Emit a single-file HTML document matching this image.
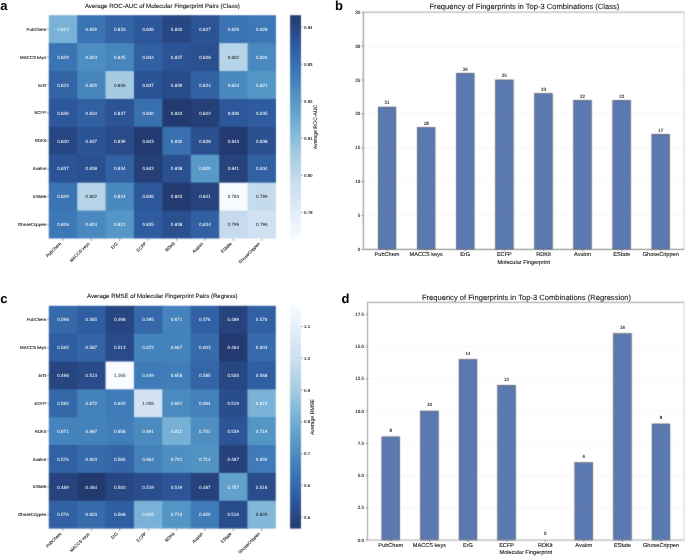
<!DOCTYPE html>
<html><head><meta charset="utf-8"><style>
html,body{margin:0;padding:0;background:#fff;}
svg{display:block;will-change:transform;}
text{font-family:"Liberation Sans",sans-serif;text-rendering:geometricPrecision;}
</style></head><body>
<svg width="685" height="556" viewBox="0 0 685 556">
<defs><filter id="bl" x="0" y="0" width="685" height="556" filterUnits="userSpaceOnUse" color-interpolation-filters="sRGB"><feConvolveMatrix order="3" kernelMatrix="0.02768 0.11101 0.02768 0.11101 0.44521 0.11101 0.02768 0.11101 0.02768" edgeMode="duplicate" preserveAlpha="true"/></filter></defs>
<rect width="685" height="556" fill="#fff"/>
<g filter="url(#bl)">
<rect width="685" height="556" fill="#fff"/>
<rect x="48.75" y="15.20" width="29.41" height="28.91" fill="#79b2d6"/>
<rect x="77.16" y="15.20" width="29.41" height="28.91" fill="#3b74b3"/>
<rect x="105.56" y="15.20" width="29.41" height="28.91" fill="#3264a6"/>
<rect x="133.97" y="15.20" width="29.41" height="28.91" fill="#2d579b"/>
<rect x="162.38" y="15.20" width="29.41" height="28.91" fill="#274783"/>
<rect x="190.78" y="15.20" width="29.41" height="28.91" fill="#2c5396"/>
<rect x="219.19" y="15.20" width="29.41" height="28.91" fill="#3b74b3"/>
<rect x="247.59" y="15.20" width="28.41" height="28.91" fill="#3d78b6"/>
<rect x="48.75" y="43.11" width="29.41" height="28.91" fill="#3b74b3"/>
<rect x="77.16" y="43.11" width="29.41" height="28.91" fill="#4d8dc1"/>
<rect x="105.56" y="43.11" width="29.41" height="28.91" fill="#4785bd"/>
<rect x="133.97" y="43.11" width="29.41" height="28.91" fill="#3160a3"/>
<rect x="162.38" y="43.11" width="29.41" height="28.91" fill="#2c5396"/>
<rect x="190.78" y="43.11" width="29.41" height="28.91" fill="#2a5090"/>
<rect x="219.19" y="43.11" width="29.41" height="28.91" fill="#b7d5e8"/>
<rect x="247.59" y="43.11" width="28.41" height="28.91" fill="#4a89bf"/>
<rect x="48.75" y="71.03" width="29.41" height="28.91" fill="#3264a6"/>
<rect x="77.16" y="71.03" width="29.41" height="28.91" fill="#4785bd"/>
<rect x="105.56" y="71.03" width="29.41" height="28.91" fill="#a4cbe1"/>
<rect x="133.97" y="71.03" width="29.41" height="28.91" fill="#2c5396"/>
<rect x="162.38" y="71.03" width="29.41" height="28.91" fill="#294b89"/>
<rect x="190.78" y="71.03" width="29.41" height="28.91" fill="#3160a3"/>
<rect x="219.19" y="71.03" width="29.41" height="28.91" fill="#4a89bf"/>
<rect x="247.59" y="71.03" width="28.41" height="28.91" fill="#5496c6"/>
<rect x="48.75" y="98.94" width="29.41" height="28.91" fill="#2d579b"/>
<rect x="77.16" y="98.94" width="29.41" height="28.91" fill="#3160a3"/>
<rect x="105.56" y="98.94" width="29.41" height="28.91" fill="#2c5396"/>
<rect x="133.97" y="98.94" width="29.41" height="28.91" fill="#3970b0"/>
<rect x="162.38" y="98.94" width="29.41" height="28.91" fill="#233a70"/>
<rect x="190.78" y="98.94" width="29.41" height="28.91" fill="#253f77"/>
<rect x="219.19" y="98.94" width="29.41" height="28.91" fill="#2d579b"/>
<rect x="247.59" y="98.94" width="28.41" height="28.91" fill="#2f5ba0"/>
<rect x="48.75" y="126.85" width="29.41" height="28.91" fill="#274783"/>
<rect x="77.16" y="126.85" width="29.41" height="28.91" fill="#2c5396"/>
<rect x="105.56" y="126.85" width="29.41" height="28.91" fill="#294b89"/>
<rect x="133.97" y="126.85" width="29.41" height="28.91" fill="#233a70"/>
<rect x="162.38" y="126.85" width="29.41" height="28.91" fill="#3970b0"/>
<rect x="190.78" y="126.85" width="29.41" height="28.91" fill="#2a5090"/>
<rect x="219.19" y="126.85" width="29.41" height="28.91" fill="#233a70"/>
<rect x="247.59" y="126.85" width="28.41" height="28.91" fill="#2a5090"/>
<rect x="48.75" y="154.76" width="29.41" height="28.91" fill="#2c5396"/>
<rect x="77.16" y="154.76" width="29.41" height="28.91" fill="#2a5090"/>
<rect x="105.56" y="154.76" width="29.41" height="28.91" fill="#3160a3"/>
<rect x="133.97" y="154.76" width="29.41" height="28.91" fill="#253f77"/>
<rect x="162.38" y="154.76" width="29.41" height="28.91" fill="#2a5090"/>
<rect x="190.78" y="154.76" width="29.41" height="28.91" fill="#5899c8"/>
<rect x="219.19" y="154.76" width="29.41" height="28.91" fill="#26437d"/>
<rect x="247.59" y="154.76" width="28.41" height="28.91" fill="#3160a3"/>
<rect x="48.75" y="182.68" width="29.41" height="28.91" fill="#3b74b3"/>
<rect x="77.16" y="182.68" width="29.41" height="28.91" fill="#b7d5e8"/>
<rect x="105.56" y="182.68" width="29.41" height="28.91" fill="#4a89bf"/>
<rect x="133.97" y="182.68" width="29.41" height="28.91" fill="#2d579b"/>
<rect x="162.38" y="182.68" width="29.41" height="28.91" fill="#233a70"/>
<rect x="190.78" y="182.68" width="29.41" height="28.91" fill="#26437d"/>
<rect x="219.19" y="182.68" width="29.41" height="28.91" fill="#f8fbff"/>
<rect x="247.59" y="182.68" width="28.41" height="28.91" fill="#c5dbed"/>
<rect x="48.75" y="210.59" width="29.41" height="27.91" fill="#3d78b6"/>
<rect x="77.16" y="210.59" width="29.41" height="27.91" fill="#4a89bf"/>
<rect x="105.56" y="210.59" width="29.41" height="27.91" fill="#5496c6"/>
<rect x="133.97" y="210.59" width="29.41" height="27.91" fill="#2f5ba0"/>
<rect x="162.38" y="210.59" width="29.41" height="27.91" fill="#2a5090"/>
<rect x="190.78" y="210.59" width="29.41" height="27.91" fill="#3160a3"/>
<rect x="219.19" y="210.59" width="29.41" height="27.91" fill="#c5dbed"/>
<rect x="247.59" y="210.59" width="28.41" height="27.91" fill="#d0e1f1"/>
<line x1="46.45" y1="29.16" x2="48.75" y2="29.16" stroke="#333" stroke-width="0.5"/>
<line x1="46.45" y1="57.07" x2="48.75" y2="57.07" stroke="#333" stroke-width="0.5"/>
<line x1="46.45" y1="84.98" x2="48.75" y2="84.98" stroke="#333" stroke-width="0.5"/>
<line x1="46.45" y1="112.89" x2="48.75" y2="112.89" stroke="#333" stroke-width="0.5"/>
<line x1="46.45" y1="140.81" x2="48.75" y2="140.81" stroke="#333" stroke-width="0.5"/>
<line x1="46.45" y1="168.72" x2="48.75" y2="168.72" stroke="#333" stroke-width="0.5"/>
<line x1="46.45" y1="196.63" x2="48.75" y2="196.63" stroke="#333" stroke-width="0.5"/>
<line x1="46.45" y1="224.54" x2="48.75" y2="224.54" stroke="#333" stroke-width="0.5"/>
<line x1="62.95" y1="238.50" x2="62.95" y2="240.80" stroke="#333" stroke-width="0.5"/>
<line x1="91.36" y1="238.50" x2="91.36" y2="240.80" stroke="#333" stroke-width="0.5"/>
<line x1="119.77" y1="238.50" x2="119.77" y2="240.80" stroke="#333" stroke-width="0.5"/>
<line x1="148.17" y1="238.50" x2="148.17" y2="240.80" stroke="#333" stroke-width="0.5"/>
<line x1="176.58" y1="238.50" x2="176.58" y2="240.80" stroke="#333" stroke-width="0.5"/>
<line x1="204.98" y1="238.50" x2="204.98" y2="240.80" stroke="#333" stroke-width="0.5"/>
<line x1="233.39" y1="238.50" x2="233.39" y2="240.80" stroke="#333" stroke-width="0.5"/>
<line x1="261.80" y1="238.50" x2="261.80" y2="240.80" stroke="#333" stroke-width="0.5"/>
<defs><linearGradient id="g161" x1="0" y1="0" x2="0" y2="1"><stop offset="0.0000" stop-color="#233a70"/><stop offset="0.0156" stop-color="#243d74"/><stop offset="0.0312" stop-color="#25417a"/><stop offset="0.0469" stop-color="#274580"/><stop offset="0.0625" stop-color="#284986"/><stop offset="0.0781" stop-color="#294d8b"/><stop offset="0.0938" stop-color="#2b5191"/><stop offset="0.1094" stop-color="#2c5497"/><stop offset="0.1250" stop-color="#2d589d"/><stop offset="0.1406" stop-color="#2f5ca0"/><stop offset="0.1562" stop-color="#3160a3"/><stop offset="0.1719" stop-color="#3264a6"/><stop offset="0.1875" stop-color="#3468a9"/><stop offset="0.2031" stop-color="#366cac"/><stop offset="0.2188" stop-color="#3870af"/><stop offset="0.2344" stop-color="#3b73b2"/><stop offset="0.2500" stop-color="#3d77b5"/><stop offset="0.2656" stop-color="#3f7bb8"/><stop offset="0.2812" stop-color="#427fba"/><stop offset="0.2969" stop-color="#4583bc"/><stop offset="0.3125" stop-color="#4887be"/><stop offset="0.3281" stop-color="#4b8bc0"/><stop offset="0.3438" stop-color="#4f8fc2"/><stop offset="0.3594" stop-color="#5293c4"/><stop offset="0.3750" stop-color="#5597c6"/><stop offset="0.3906" stop-color="#599ac8"/><stop offset="0.4062" stop-color="#5d9dca"/><stop offset="0.4219" stop-color="#62a1cc"/><stop offset="0.4375" stop-color="#66a4ce"/><stop offset="0.4531" stop-color="#6aa8d0"/><stop offset="0.4688" stop-color="#6fabd2"/><stop offset="0.4844" stop-color="#73aed4"/><stop offset="0.5000" stop-color="#78b2d6"/><stop offset="0.5156" stop-color="#7db5d7"/><stop offset="0.5312" stop-color="#83b8d9"/><stop offset="0.5469" stop-color="#88bcda"/><stop offset="0.5625" stop-color="#8ebfdc"/><stop offset="0.5781" stop-color="#94c2dd"/><stop offset="0.5938" stop-color="#99c6de"/><stop offset="0.6094" stop-color="#9fc9e0"/><stop offset="0.6250" stop-color="#a5cce1"/><stop offset="0.6406" stop-color="#aacee3"/><stop offset="0.6562" stop-color="#aed0e5"/><stop offset="0.6719" stop-color="#b3d3e6"/><stop offset="0.6875" stop-color="#b7d5e8"/><stop offset="0.7031" stop-color="#bcd7ea"/><stop offset="0.7188" stop-color="#c1d9eb"/><stop offset="0.7344" stop-color="#c5dbed"/><stop offset="0.7500" stop-color="#caddef"/><stop offset="0.7656" stop-color="#cddff0"/><stop offset="0.7812" stop-color="#cfe1f1"/><stop offset="0.7969" stop-color="#d2e2f2"/><stop offset="0.8125" stop-color="#d5e4f3"/><stop offset="0.8281" stop-color="#d8e6f4"/><stop offset="0.8438" stop-color="#dbe8f5"/><stop offset="0.8594" stop-color="#ddeaf6"/><stop offset="0.8750" stop-color="#e0ecf7"/><stop offset="0.8906" stop-color="#e3eef8"/><stop offset="0.9062" stop-color="#e6f0f9"/><stop offset="0.9219" stop-color="#e9f2fa"/><stop offset="0.9375" stop-color="#ecf4fb"/><stop offset="0.9531" stop-color="#eff5fc"/><stop offset="0.9688" stop-color="#f2f7fd"/><stop offset="0.9844" stop-color="#f5f9fe"/><stop offset="1.0000" stop-color="#f8fbff"/></linearGradient></defs>
<rect x="290.1" y="15.20" width="10.90" height="223.30" fill="url(#g161)"/>
<line x1="301.00" y1="212.45" x2="302.80" y2="212.45" stroke="#333" stroke-width="0.5"/>
<line x1="301.00" y1="175.38" x2="302.80" y2="175.38" stroke="#333" stroke-width="0.5"/>
<line x1="301.00" y1="138.32" x2="302.80" y2="138.32" stroke="#333" stroke-width="0.5"/>
<line x1="301.00" y1="101.26" x2="302.80" y2="101.26" stroke="#333" stroke-width="0.5"/>
<line x1="301.00" y1="64.20" x2="302.80" y2="64.20" stroke="#333" stroke-width="0.5"/>
<line x1="301.00" y1="27.13" x2="302.80" y2="27.13" stroke="#333" stroke-width="0.5"/>
<rect x="48.80" y="305.80" width="29.38" height="28.85" fill="#3569aa"/>
<rect x="77.17" y="305.80" width="29.38" height="28.85" fill="#2f5da1"/>
<rect x="105.55" y="305.80" width="29.38" height="28.85" fill="#274681"/>
<rect x="133.93" y="305.80" width="29.38" height="28.85" fill="#3468a9"/>
<rect x="162.30" y="305.80" width="29.38" height="28.85" fill="#4583bc"/>
<rect x="190.68" y="305.80" width="29.38" height="28.85" fill="#3161a4"/>
<rect x="219.05" y="305.80" width="29.38" height="28.85" fill="#26437d"/>
<rect x="247.43" y="305.80" width="28.38" height="28.85" fill="#3161a4"/>
<rect x="48.80" y="333.65" width="29.38" height="28.85" fill="#2f5da1"/>
<rect x="77.17" y="333.65" width="29.38" height="28.85" fill="#3365a7"/>
<rect x="105.55" y="333.65" width="29.38" height="28.85" fill="#294b89"/>
<rect x="133.93" y="333.65" width="29.38" height="28.85" fill="#4583bc"/>
<rect x="162.30" y="333.65" width="29.38" height="28.85" fill="#4482bb"/>
<rect x="190.68" y="333.65" width="29.38" height="28.85" fill="#366bac"/>
<rect x="219.05" y="333.65" width="29.38" height="28.85" fill="#233a70"/>
<rect x="247.43" y="333.65" width="28.38" height="28.85" fill="#366bac"/>
<rect x="48.80" y="361.50" width="29.38" height="28.85" fill="#274681"/>
<rect x="77.17" y="361.50" width="29.38" height="28.85" fill="#294b89"/>
<rect x="105.55" y="361.50" width="29.38" height="28.85" fill="#f8fbff"/>
<rect x="133.93" y="361.50" width="29.38" height="28.85" fill="#3f7bb8"/>
<rect x="162.30" y="361.50" width="29.38" height="28.85" fill="#417eb9"/>
<rect x="190.68" y="361.50" width="29.38" height="28.85" fill="#3365a7"/>
<rect x="219.05" y="361.50" width="29.38" height="28.85" fill="#274783"/>
<rect x="247.43" y="361.50" width="28.38" height="28.85" fill="#305ea2"/>
<rect x="48.80" y="389.35" width="29.38" height="28.85" fill="#3468a9"/>
<rect x="77.17" y="389.35" width="29.38" height="28.85" fill="#4583bc"/>
<rect x="105.55" y="389.35" width="29.38" height="28.85" fill="#3f7bb8"/>
<rect x="133.93" y="389.35" width="29.38" height="28.85" fill="#d4e3f2"/>
<rect x="162.30" y="389.35" width="29.38" height="28.85" fill="#4b8abf"/>
<rect x="190.68" y="389.35" width="29.38" height="28.85" fill="#4481bb"/>
<rect x="219.05" y="389.35" width="29.38" height="28.85" fill="#2a4e8d"/>
<rect x="247.43" y="389.35" width="28.38" height="28.85" fill="#79b2d6"/>
<rect x="48.80" y="417.20" width="29.38" height="28.85" fill="#4583bc"/>
<rect x="77.17" y="417.20" width="29.38" height="28.85" fill="#4482bb"/>
<rect x="105.55" y="417.20" width="29.38" height="28.85" fill="#417eb9"/>
<rect x="133.93" y="417.20" width="29.38" height="28.85" fill="#4b8abf"/>
<rect x="162.30" y="417.20" width="29.38" height="28.85" fill="#76b1d5"/>
<rect x="190.68" y="417.20" width="29.38" height="28.85" fill="#4e8ec1"/>
<rect x="219.05" y="417.20" width="29.38" height="28.85" fill="#2c5497"/>
<rect x="247.43" y="417.20" width="28.38" height="28.85" fill="#5395c5"/>
<rect x="48.80" y="445.05" width="29.38" height="28.85" fill="#3161a4"/>
<rect x="77.17" y="445.05" width="29.38" height="28.85" fill="#366bac"/>
<rect x="105.55" y="445.05" width="29.38" height="28.85" fill="#3365a7"/>
<rect x="133.93" y="445.05" width="29.38" height="28.85" fill="#4481bb"/>
<rect x="162.30" y="445.05" width="29.38" height="28.85" fill="#4e8ec1"/>
<rect x="190.68" y="445.05" width="29.38" height="28.85" fill="#5293c4"/>
<rect x="219.05" y="445.05" width="29.38" height="28.85" fill="#26427c"/>
<rect x="247.43" y="445.05" width="28.38" height="28.85" fill="#3f7bb8"/>
<rect x="48.80" y="472.90" width="29.38" height="28.85" fill="#26437d"/>
<rect x="77.17" y="472.90" width="29.38" height="28.85" fill="#233a70"/>
<rect x="105.55" y="472.90" width="29.38" height="28.85" fill="#274783"/>
<rect x="133.93" y="472.90" width="29.38" height="28.85" fill="#2a4e8d"/>
<rect x="162.30" y="472.90" width="29.38" height="28.85" fill="#2c5497"/>
<rect x="190.68" y="472.90" width="29.38" height="28.85" fill="#26427c"/>
<rect x="219.05" y="472.90" width="29.38" height="28.85" fill="#62a1cc"/>
<rect x="247.43" y="472.90" width="28.38" height="28.85" fill="#294c8a"/>
<rect x="48.80" y="500.75" width="29.38" height="27.85" fill="#3161a4"/>
<rect x="77.17" y="500.75" width="29.38" height="27.85" fill="#366bac"/>
<rect x="105.55" y="500.75" width="29.38" height="27.85" fill="#305ea2"/>
<rect x="133.93" y="500.75" width="29.38" height="27.85" fill="#79b2d6"/>
<rect x="162.30" y="500.75" width="29.38" height="27.85" fill="#5395c5"/>
<rect x="190.68" y="500.75" width="29.38" height="27.85" fill="#3f7bb8"/>
<rect x="219.05" y="500.75" width="29.38" height="27.85" fill="#294c8a"/>
<rect x="247.43" y="500.75" width="28.38" height="27.85" fill="#81b7d8"/>
<line x1="46.50" y1="319.73" x2="48.80" y2="319.73" stroke="#333" stroke-width="0.5"/>
<line x1="46.50" y1="347.58" x2="48.80" y2="347.58" stroke="#333" stroke-width="0.5"/>
<line x1="46.50" y1="375.43" x2="48.80" y2="375.43" stroke="#333" stroke-width="0.5"/>
<line x1="46.50" y1="403.28" x2="48.80" y2="403.28" stroke="#333" stroke-width="0.5"/>
<line x1="46.50" y1="431.12" x2="48.80" y2="431.12" stroke="#333" stroke-width="0.5"/>
<line x1="46.50" y1="458.98" x2="48.80" y2="458.98" stroke="#333" stroke-width="0.5"/>
<line x1="46.50" y1="486.83" x2="48.80" y2="486.83" stroke="#333" stroke-width="0.5"/>
<line x1="46.50" y1="514.67" x2="48.80" y2="514.67" stroke="#333" stroke-width="0.5"/>
<line x1="62.99" y1="528.60" x2="62.99" y2="530.90" stroke="#333" stroke-width="0.5"/>
<line x1="91.36" y1="528.60" x2="91.36" y2="530.90" stroke="#333" stroke-width="0.5"/>
<line x1="119.74" y1="528.60" x2="119.74" y2="530.90" stroke="#333" stroke-width="0.5"/>
<line x1="148.11" y1="528.60" x2="148.11" y2="530.90" stroke="#333" stroke-width="0.5"/>
<line x1="176.49" y1="528.60" x2="176.49" y2="530.90" stroke="#333" stroke-width="0.5"/>
<line x1="204.86" y1="528.60" x2="204.86" y2="530.90" stroke="#333" stroke-width="0.5"/>
<line x1="233.24" y1="528.60" x2="233.24" y2="530.90" stroke="#333" stroke-width="0.5"/>
<line x1="261.61" y1="528.60" x2="261.61" y2="530.90" stroke="#333" stroke-width="0.5"/>
<defs><linearGradient id="g337" x1="0" y1="0" x2="0" y2="1"><stop offset="0.0000" stop-color="#f8fbff"/><stop offset="0.0156" stop-color="#f5f9fe"/><stop offset="0.0312" stop-color="#f2f7fd"/><stop offset="0.0469" stop-color="#eff5fc"/><stop offset="0.0625" stop-color="#ecf4fb"/><stop offset="0.0781" stop-color="#e9f2fa"/><stop offset="0.0938" stop-color="#e6f0f9"/><stop offset="0.1094" stop-color="#e3eef8"/><stop offset="0.1250" stop-color="#e0ecf7"/><stop offset="0.1406" stop-color="#ddeaf6"/><stop offset="0.1562" stop-color="#dbe8f5"/><stop offset="0.1719" stop-color="#d8e6f4"/><stop offset="0.1875" stop-color="#d5e4f3"/><stop offset="0.2031" stop-color="#d2e2f2"/><stop offset="0.2188" stop-color="#cfe1f1"/><stop offset="0.2344" stop-color="#cddff0"/><stop offset="0.2500" stop-color="#caddef"/><stop offset="0.2656" stop-color="#c5dbed"/><stop offset="0.2812" stop-color="#c1d9eb"/><stop offset="0.2969" stop-color="#bcd7ea"/><stop offset="0.3125" stop-color="#b7d5e8"/><stop offset="0.3281" stop-color="#b3d3e6"/><stop offset="0.3438" stop-color="#aed0e5"/><stop offset="0.3594" stop-color="#aacee3"/><stop offset="0.3750" stop-color="#a5cce1"/><stop offset="0.3906" stop-color="#9fc9e0"/><stop offset="0.4062" stop-color="#99c6de"/><stop offset="0.4219" stop-color="#94c2dd"/><stop offset="0.4375" stop-color="#8ebfdc"/><stop offset="0.4531" stop-color="#88bcda"/><stop offset="0.4688" stop-color="#83b8d9"/><stop offset="0.4844" stop-color="#7db5d7"/><stop offset="0.5000" stop-color="#78b2d6"/><stop offset="0.5156" stop-color="#73aed4"/><stop offset="0.5312" stop-color="#6fabd2"/><stop offset="0.5469" stop-color="#6aa8d0"/><stop offset="0.5625" stop-color="#66a4ce"/><stop offset="0.5781" stop-color="#62a1cc"/><stop offset="0.5938" stop-color="#5d9dca"/><stop offset="0.6094" stop-color="#599ac8"/><stop offset="0.6250" stop-color="#5597c6"/><stop offset="0.6406" stop-color="#5293c4"/><stop offset="0.6562" stop-color="#4f8fc2"/><stop offset="0.6719" stop-color="#4b8bc0"/><stop offset="0.6875" stop-color="#4887be"/><stop offset="0.7031" stop-color="#4583bc"/><stop offset="0.7188" stop-color="#427fba"/><stop offset="0.7344" stop-color="#3f7bb8"/><stop offset="0.7500" stop-color="#3d77b5"/><stop offset="0.7656" stop-color="#3b73b2"/><stop offset="0.7812" stop-color="#3870af"/><stop offset="0.7969" stop-color="#366cac"/><stop offset="0.8125" stop-color="#3468a9"/><stop offset="0.8281" stop-color="#3264a6"/><stop offset="0.8438" stop-color="#3160a3"/><stop offset="0.8594" stop-color="#2f5ca0"/><stop offset="0.8750" stop-color="#2d589d"/><stop offset="0.8906" stop-color="#2c5497"/><stop offset="0.9062" stop-color="#2b5191"/><stop offset="0.9219" stop-color="#294d8b"/><stop offset="0.9375" stop-color="#284986"/><stop offset="0.9531" stop-color="#274580"/><stop offset="0.9688" stop-color="#25417a"/><stop offset="0.9844" stop-color="#243d74"/><stop offset="1.0000" stop-color="#233a70"/></linearGradient></defs>
<rect x="290.1" y="305.80" width="10.90" height="222.80" fill="url(#g337)"/>
<line x1="301.00" y1="517.16" x2="302.80" y2="517.16" stroke="#333" stroke-width="0.5"/>
<line x1="301.00" y1="485.37" x2="302.80" y2="485.37" stroke="#333" stroke-width="0.5"/>
<line x1="301.00" y1="453.59" x2="302.80" y2="453.59" stroke="#333" stroke-width="0.5"/>
<line x1="301.00" y1="421.81" x2="302.80" y2="421.81" stroke="#333" stroke-width="0.5"/>
<line x1="301.00" y1="390.03" x2="302.80" y2="390.03" stroke="#333" stroke-width="0.5"/>
<line x1="301.00" y1="358.24" x2="302.80" y2="358.24" stroke="#333" stroke-width="0.5"/>
<line x1="301.00" y1="326.46" x2="302.80" y2="326.46" stroke="#333" stroke-width="0.5"/>
<rect x="378.20" y="107.08" width="17.70" height="142.32" fill="#5a79b1" stroke="#2a2a2a" stroke-width="0.45"/>
<rect x="417.30" y="127.41" width="17.70" height="121.99" fill="#5a79b1" stroke="#2a2a2a" stroke-width="0.45"/>
<rect x="456.40" y="73.19" width="17.70" height="176.21" fill="#5a79b1" stroke="#2a2a2a" stroke-width="0.45"/>
<rect x="495.50" y="79.97" width="17.70" height="169.43" fill="#5a79b1" stroke="#2a2a2a" stroke-width="0.45"/>
<rect x="534.60" y="93.53" width="17.70" height="155.87" fill="#5a79b1" stroke="#2a2a2a" stroke-width="0.45"/>
<rect x="573.70" y="100.30" width="17.70" height="149.10" fill="#5a79b1" stroke="#2a2a2a" stroke-width="0.45"/>
<rect x="612.80" y="100.30" width="17.70" height="149.10" fill="#5a79b1" stroke="#2a2a2a" stroke-width="0.45"/>
<rect x="651.90" y="134.19" width="17.70" height="115.21" fill="#5a79b1" stroke="#2a2a2a" stroke-width="0.45"/>
<line x1="364" y1="215.51" x2="684.10" y2="215.51" stroke="#b0b0b0" stroke-width="0.6" stroke-dasharray="1,1" opacity="0.35"/>
<line x1="364" y1="181.63" x2="684.10" y2="181.63" stroke="#b0b0b0" stroke-width="0.6" stroke-dasharray="1,1" opacity="0.35"/>
<line x1="364" y1="147.74" x2="684.10" y2="147.74" stroke="#b0b0b0" stroke-width="0.6" stroke-dasharray="1,1" opacity="0.35"/>
<line x1="364" y1="113.86" x2="684.10" y2="113.86" stroke="#b0b0b0" stroke-width="0.6" stroke-dasharray="1,1" opacity="0.35"/>
<line x1="364" y1="79.97" x2="684.10" y2="79.97" stroke="#b0b0b0" stroke-width="0.6" stroke-dasharray="1,1" opacity="0.35"/>
<line x1="364" y1="46.09" x2="684.10" y2="46.09" stroke="#b0b0b0" stroke-width="0.6" stroke-dasharray="1,1" opacity="0.35"/>
<line x1="363.30" y1="12.20" x2="684.10" y2="12.20" stroke="#c4c4c4" stroke-width="1.5"/>
<line x1="684.10" y1="12.20" x2="684.10" y2="249.40" stroke="#cccccc" stroke-width="0.9"/>
<line x1="363.30" y1="249.40" x2="684.10" y2="249.40" stroke="#6e6e6e" stroke-width="0.9"/>
<line x1="363.30" y1="12.20" x2="363.30" y2="249.40" stroke="#777" stroke-width="0.9"/>
<line x1="361.50" y1="249.40" x2="363.30" y2="249.40" stroke="#333" stroke-width="0.5"/>
<line x1="361.50" y1="215.51" x2="363.30" y2="215.51" stroke="#333" stroke-width="0.5"/>
<line x1="361.50" y1="181.63" x2="363.30" y2="181.63" stroke="#333" stroke-width="0.5"/>
<line x1="361.50" y1="147.74" x2="363.30" y2="147.74" stroke="#333" stroke-width="0.5"/>
<line x1="361.50" y1="113.86" x2="363.30" y2="113.86" stroke="#333" stroke-width="0.5"/>
<line x1="361.50" y1="79.97" x2="363.30" y2="79.97" stroke="#333" stroke-width="0.5"/>
<line x1="361.50" y1="46.09" x2="363.30" y2="46.09" stroke="#333" stroke-width="0.5"/>
<line x1="361.50" y1="12.20" x2="363.30" y2="12.20" stroke="#333" stroke-width="0.5"/>
<line x1="387.05" y1="249.40" x2="387.05" y2="251.20" stroke="#333" stroke-width="0.5"/>
<line x1="426.15" y1="249.40" x2="426.15" y2="251.20" stroke="#333" stroke-width="0.5"/>
<line x1="465.25" y1="249.40" x2="465.25" y2="251.20" stroke="#333" stroke-width="0.5"/>
<line x1="504.35" y1="249.40" x2="504.35" y2="251.20" stroke="#333" stroke-width="0.5"/>
<line x1="543.45" y1="249.40" x2="543.45" y2="251.20" stroke="#333" stroke-width="0.5"/>
<line x1="582.55" y1="249.40" x2="582.55" y2="251.20" stroke="#333" stroke-width="0.5"/>
<line x1="621.65" y1="249.40" x2="621.65" y2="251.20" stroke="#333" stroke-width="0.5"/>
<line x1="660.75" y1="249.40" x2="660.75" y2="251.20" stroke="#333" stroke-width="0.5"/>
<rect x="381.90" y="436.88" width="17.80" height="103.22" fill="#5a79b1" stroke="#2a2a2a" stroke-width="0.45"/>
<rect x="420.50" y="411.07" width="17.80" height="129.03" fill="#5a79b1" stroke="#2a2a2a" stroke-width="0.45"/>
<rect x="459.10" y="359.46" width="17.80" height="180.64" fill="#5a79b1" stroke="#2a2a2a" stroke-width="0.45"/>
<rect x="497.70" y="385.27" width="17.80" height="154.83" fill="#5a79b1" stroke="#2a2a2a" stroke-width="0.45"/>
<rect x="536.30" y="540.10" width="17.80" height="0.00" fill="#5a79b1" stroke="#2a2a2a" stroke-width="0.45"/>
<rect x="574.90" y="462.68" width="17.80" height="77.42" fill="#5a79b1" stroke="#2a2a2a" stroke-width="0.45"/>
<rect x="613.50" y="333.65" width="17.80" height="206.45" fill="#5a79b1" stroke="#2a2a2a" stroke-width="0.45"/>
<rect x="652.10" y="423.97" width="17.80" height="116.13" fill="#5a79b1" stroke="#2a2a2a" stroke-width="0.45"/>
<line x1="368" y1="507.84" x2="684.10" y2="507.84" stroke="#b0b0b0" stroke-width="0.6" stroke-dasharray="1,1" opacity="0.35"/>
<line x1="368" y1="475.59" x2="684.10" y2="475.59" stroke="#b0b0b0" stroke-width="0.6" stroke-dasharray="1,1" opacity="0.35"/>
<line x1="368" y1="443.33" x2="684.10" y2="443.33" stroke="#b0b0b0" stroke-width="0.6" stroke-dasharray="1,1" opacity="0.35"/>
<line x1="368" y1="411.07" x2="684.10" y2="411.07" stroke="#b0b0b0" stroke-width="0.6" stroke-dasharray="1,1" opacity="0.35"/>
<line x1="368" y1="378.81" x2="684.10" y2="378.81" stroke="#b0b0b0" stroke-width="0.6" stroke-dasharray="1,1" opacity="0.35"/>
<line x1="368" y1="346.56" x2="684.10" y2="346.56" stroke="#b0b0b0" stroke-width="0.6" stroke-dasharray="1,1" opacity="0.35"/>
<line x1="368" y1="314.30" x2="684.10" y2="314.30" stroke="#b0b0b0" stroke-width="0.6" stroke-dasharray="1,1" opacity="0.35"/>
<line x1="367.50" y1="302.30" x2="684.10" y2="302.30" stroke="#8a8a8a" stroke-width="0.9"/>
<line x1="684.10" y1="302.30" x2="684.10" y2="540.10" stroke="#d0d0d0" stroke-width="0.9"/>
<line x1="367.50" y1="540.10" x2="684.10" y2="540.10" stroke="#9a9a9a" stroke-width="0.9"/>
<line x1="367.50" y1="302.30" x2="367.50" y2="540.10" stroke="#8e8e8e" stroke-width="0.9"/>
<line x1="365.70" y1="540.10" x2="367.50" y2="540.10" stroke="#333" stroke-width="0.5"/>
<line x1="365.70" y1="507.84" x2="367.50" y2="507.84" stroke="#333" stroke-width="0.5"/>
<line x1="365.70" y1="475.59" x2="367.50" y2="475.59" stroke="#333" stroke-width="0.5"/>
<line x1="365.70" y1="443.33" x2="367.50" y2="443.33" stroke="#333" stroke-width="0.5"/>
<line x1="365.70" y1="411.07" x2="367.50" y2="411.07" stroke="#333" stroke-width="0.5"/>
<line x1="365.70" y1="378.81" x2="367.50" y2="378.81" stroke="#333" stroke-width="0.5"/>
<line x1="365.70" y1="346.56" x2="367.50" y2="346.56" stroke="#333" stroke-width="0.5"/>
<line x1="365.70" y1="314.30" x2="367.50" y2="314.30" stroke="#333" stroke-width="0.5"/>
<line x1="390.80" y1="540.10" x2="390.80" y2="541.90" stroke="#333" stroke-width="0.5"/>
<line x1="429.40" y1="540.10" x2="429.40" y2="541.90" stroke="#333" stroke-width="0.5"/>
<line x1="468.00" y1="540.10" x2="468.00" y2="541.90" stroke="#333" stroke-width="0.5"/>
<line x1="506.60" y1="540.10" x2="506.60" y2="541.90" stroke="#333" stroke-width="0.5"/>
<line x1="545.20" y1="540.10" x2="545.20" y2="541.90" stroke="#333" stroke-width="0.5"/>
<line x1="583.80" y1="540.10" x2="583.80" y2="541.90" stroke="#333" stroke-width="0.5"/>
<line x1="622.40" y1="540.10" x2="622.40" y2="541.90" stroke="#333" stroke-width="0.5"/>
<line x1="661.00" y1="540.10" x2="661.00" y2="541.90" stroke="#333" stroke-width="0.5"/>
</g>
<text x="62.95" y="30.90" font-size="4.6" text-anchor="middle" fill="#ffffff" >0.813</text>
<text x="91.36" y="30.90" font-size="4.6" text-anchor="middle" fill="#ffffff" >0.829</text>
<text x="119.77" y="30.90" font-size="4.6" text-anchor="middle" fill="#ffffff" >0.833</text>
<text x="148.17" y="30.90" font-size="4.6" text-anchor="middle" fill="#ffffff" >0.836</text>
<text x="176.58" y="30.90" font-size="4.6" text-anchor="middle" fill="#ffffff" >0.840</text>
<text x="204.98" y="30.90" font-size="4.6" text-anchor="middle" fill="#ffffff" >0.837</text>
<text x="233.39" y="30.90" font-size="4.6" text-anchor="middle" fill="#ffffff" >0.829</text>
<text x="261.80" y="30.90" font-size="4.6" text-anchor="middle" fill="#ffffff" >0.828</text>
<text x="62.95" y="58.82" font-size="4.6" text-anchor="middle" fill="#ffffff" >0.829</text>
<text x="91.36" y="58.82" font-size="4.6" text-anchor="middle" fill="#ffffff" >0.823</text>
<text x="119.77" y="58.82" font-size="4.6" text-anchor="middle" fill="#ffffff" >0.825</text>
<text x="148.17" y="58.82" font-size="4.6" text-anchor="middle" fill="#ffffff" >0.834</text>
<text x="176.58" y="58.82" font-size="4.6" text-anchor="middle" fill="#ffffff" >0.837</text>
<text x="204.98" y="58.82" font-size="4.6" text-anchor="middle" fill="#ffffff" >0.838</text>
<text x="233.39" y="58.82" font-size="4.6" text-anchor="middle" fill="#1a1a1a" >0.802</text>
<text x="261.80" y="58.82" font-size="4.6" text-anchor="middle" fill="#ffffff" >0.824</text>
<text x="62.95" y="86.73" font-size="4.6" text-anchor="middle" fill="#ffffff" >0.833</text>
<text x="91.36" y="86.73" font-size="4.6" text-anchor="middle" fill="#ffffff" >0.825</text>
<text x="119.77" y="86.73" font-size="4.6" text-anchor="middle" fill="#1a1a1a" >0.806</text>
<text x="148.17" y="86.73" font-size="4.6" text-anchor="middle" fill="#ffffff" >0.837</text>
<text x="176.58" y="86.73" font-size="4.6" text-anchor="middle" fill="#ffffff" >0.839</text>
<text x="204.98" y="86.73" font-size="4.6" text-anchor="middle" fill="#ffffff" >0.834</text>
<text x="233.39" y="86.73" font-size="4.6" text-anchor="middle" fill="#ffffff" >0.824</text>
<text x="261.80" y="86.73" font-size="4.6" text-anchor="middle" fill="#ffffff" >0.821</text>
<text x="62.95" y="114.64" font-size="4.6" text-anchor="middle" fill="#ffffff" >0.836</text>
<text x="91.36" y="114.64" font-size="4.6" text-anchor="middle" fill="#ffffff" >0.834</text>
<text x="119.77" y="114.64" font-size="4.6" text-anchor="middle" fill="#ffffff" >0.837</text>
<text x="148.17" y="114.64" font-size="4.6" text-anchor="middle" fill="#ffffff" >0.830</text>
<text x="176.58" y="114.64" font-size="4.6" text-anchor="middle" fill="#ffffff" >0.843</text>
<text x="204.98" y="114.64" font-size="4.6" text-anchor="middle" fill="#ffffff" >0.842</text>
<text x="233.39" y="114.64" font-size="4.6" text-anchor="middle" fill="#ffffff" >0.836</text>
<text x="261.80" y="114.64" font-size="4.6" text-anchor="middle" fill="#ffffff" >0.835</text>
<text x="62.95" y="142.55" font-size="4.6" text-anchor="middle" fill="#ffffff" >0.840</text>
<text x="91.36" y="142.55" font-size="4.6" text-anchor="middle" fill="#ffffff" >0.837</text>
<text x="119.77" y="142.55" font-size="4.6" text-anchor="middle" fill="#ffffff" >0.839</text>
<text x="148.17" y="142.55" font-size="4.6" text-anchor="middle" fill="#ffffff" >0.843</text>
<text x="176.58" y="142.55" font-size="4.6" text-anchor="middle" fill="#ffffff" >0.830</text>
<text x="204.98" y="142.55" font-size="4.6" text-anchor="middle" fill="#ffffff" >0.838</text>
<text x="233.39" y="142.55" font-size="4.6" text-anchor="middle" fill="#ffffff" >0.843</text>
<text x="261.80" y="142.55" font-size="4.6" text-anchor="middle" fill="#ffffff" >0.838</text>
<text x="62.95" y="170.47" font-size="4.6" text-anchor="middle" fill="#ffffff" >0.837</text>
<text x="91.36" y="170.47" font-size="4.6" text-anchor="middle" fill="#ffffff" >0.838</text>
<text x="119.77" y="170.47" font-size="4.6" text-anchor="middle" fill="#ffffff" >0.834</text>
<text x="148.17" y="170.47" font-size="4.6" text-anchor="middle" fill="#ffffff" >0.842</text>
<text x="176.58" y="170.47" font-size="4.6" text-anchor="middle" fill="#ffffff" >0.838</text>
<text x="204.98" y="170.47" font-size="4.6" text-anchor="middle" fill="#ffffff" >0.820</text>
<text x="233.39" y="170.47" font-size="4.6" text-anchor="middle" fill="#ffffff" >0.841</text>
<text x="261.80" y="170.47" font-size="4.6" text-anchor="middle" fill="#ffffff" >0.834</text>
<text x="62.95" y="198.38" font-size="4.6" text-anchor="middle" fill="#ffffff" >0.829</text>
<text x="91.36" y="198.38" font-size="4.6" text-anchor="middle" fill="#1a1a1a" >0.802</text>
<text x="119.77" y="198.38" font-size="4.6" text-anchor="middle" fill="#ffffff" >0.824</text>
<text x="148.17" y="198.38" font-size="4.6" text-anchor="middle" fill="#ffffff" >0.836</text>
<text x="176.58" y="198.38" font-size="4.6" text-anchor="middle" fill="#ffffff" >0.843</text>
<text x="204.98" y="198.38" font-size="4.6" text-anchor="middle" fill="#ffffff" >0.841</text>
<text x="233.39" y="198.38" font-size="4.6" text-anchor="middle" fill="#1a1a1a" >0.783</text>
<text x="261.80" y="198.38" font-size="4.6" text-anchor="middle" fill="#1a1a1a" >0.799</text>
<text x="62.95" y="226.29" font-size="4.6" text-anchor="middle" fill="#ffffff" >0.828</text>
<text x="91.36" y="226.29" font-size="4.6" text-anchor="middle" fill="#ffffff" >0.824</text>
<text x="119.77" y="226.29" font-size="4.6" text-anchor="middle" fill="#ffffff" >0.821</text>
<text x="148.17" y="226.29" font-size="4.6" text-anchor="middle" fill="#ffffff" >0.835</text>
<text x="176.58" y="226.29" font-size="4.6" text-anchor="middle" fill="#ffffff" >0.838</text>
<text x="204.98" y="226.29" font-size="4.6" text-anchor="middle" fill="#ffffff" >0.834</text>
<text x="233.39" y="226.29" font-size="4.6" text-anchor="middle" fill="#1a1a1a" >0.799</text>
<text x="261.80" y="226.29" font-size="4.6" text-anchor="middle" fill="#1a1a1a" >0.796</text>
<text x="46.15" y="30.74" font-size="4.4" text-anchor="end" fill="#1a1a1a" stroke="#1a1a1a" stroke-width="0.1" >PubChem</text>
<text x="46.15" y="58.65" font-size="4.4" text-anchor="end" fill="#1a1a1a" stroke="#1a1a1a" stroke-width="0.1" >MACCS keys</text>
<text x="46.15" y="86.57" font-size="4.4" text-anchor="end" fill="#1a1a1a" stroke="#1a1a1a" stroke-width="0.1" >ErG</text>
<text x="46.15" y="114.48" font-size="4.4" text-anchor="end" fill="#1a1a1a" stroke="#1a1a1a" stroke-width="0.1" >ECFP</text>
<text x="46.15" y="142.39" font-size="4.4" text-anchor="end" fill="#1a1a1a" stroke="#1a1a1a" stroke-width="0.1" >RDKit</text>
<text x="46.15" y="170.30" font-size="4.4" text-anchor="end" fill="#1a1a1a" stroke="#1a1a1a" stroke-width="0.1" >Avalon</text>
<text x="46.15" y="198.22" font-size="4.4" text-anchor="end" fill="#1a1a1a" stroke="#1a1a1a" stroke-width="0.1" >EState</text>
<text x="46.15" y="226.13" font-size="4.4" text-anchor="end" fill="#1a1a1a" stroke="#1a1a1a" stroke-width="0.1" >GhoseCrippen</text>
<text x="61.45" y="244.00" font-size="4.4" text-anchor="end" fill="#1a1a1a" stroke="#1a1a1a" stroke-width="0.1" transform="rotate(-45 61.45 244.00)">PubChem</text>
<text x="89.86" y="244.00" font-size="4.4" text-anchor="end" fill="#1a1a1a" stroke="#1a1a1a" stroke-width="0.1" transform="rotate(-45 89.86 244.00)">MACCS keys</text>
<text x="118.27" y="244.00" font-size="4.4" text-anchor="end" fill="#1a1a1a" stroke="#1a1a1a" stroke-width="0.1" transform="rotate(-45 118.27 244.00)">ErG</text>
<text x="146.67" y="244.00" font-size="4.4" text-anchor="end" fill="#1a1a1a" stroke="#1a1a1a" stroke-width="0.1" transform="rotate(-45 146.67 244.00)">ECFP</text>
<text x="175.08" y="244.00" font-size="4.4" text-anchor="end" fill="#1a1a1a" stroke="#1a1a1a" stroke-width="0.1" transform="rotate(-45 175.08 244.00)">RDKit</text>
<text x="203.48" y="244.00" font-size="4.4" text-anchor="end" fill="#1a1a1a" stroke="#1a1a1a" stroke-width="0.1" transform="rotate(-45 203.48 244.00)">Avalon</text>
<text x="231.89" y="244.00" font-size="4.4" text-anchor="end" fill="#1a1a1a" stroke="#1a1a1a" stroke-width="0.1" transform="rotate(-45 231.89 244.00)">EState</text>
<text x="260.30" y="244.00" font-size="4.4" text-anchor="end" fill="#1a1a1a" stroke="#1a1a1a" stroke-width="0.1" transform="rotate(-45 260.30 244.00)">GhoseCrippen</text>
<text x="162.38" y="8.00" font-size="6.1" text-anchor="middle" fill="#1a1a1a" stroke="#1a1a1a" stroke-width="0.1" >Average ROC-AUC of Molecular Fingerprint Pairs (Class)</text>
<text x="304.00" y="214.03" font-size="4.4" text-anchor="start" fill="#1a1a1a" stroke="#1a1a1a" stroke-width="0.1" >0.79</text>
<text x="304.00" y="176.97" font-size="4.4" text-anchor="start" fill="#1a1a1a" stroke="#1a1a1a" stroke-width="0.1" >0.80</text>
<text x="304.00" y="139.90" font-size="4.4" text-anchor="start" fill="#1a1a1a" stroke="#1a1a1a" stroke-width="0.1" >0.81</text>
<text x="304.00" y="102.84" font-size="4.4" text-anchor="start" fill="#1a1a1a" stroke="#1a1a1a" stroke-width="0.1" >0.82</text>
<text x="304.00" y="65.78" font-size="4.4" text-anchor="start" fill="#1a1a1a" stroke="#1a1a1a" stroke-width="0.1" >0.83</text>
<text x="304.00" y="28.72" font-size="4.4" text-anchor="start" fill="#1a1a1a" stroke="#1a1a1a" stroke-width="0.1" >0.84</text>
<text x="316.60" y="126.85" font-size="5.2" text-anchor="middle" fill="#1a1a1a" stroke="#1a1a1a" stroke-width="0.1" transform="rotate(-90 316.60 126.85)">Average ROC-AUC</text>
<text x="62.99" y="321.47" font-size="4.6" text-anchor="middle" fill="#ffffff" >0.598</text>
<text x="91.36" y="321.47" font-size="4.6" text-anchor="middle" fill="#ffffff" >0.565</text>
<text x="119.74" y="321.47" font-size="4.6" text-anchor="middle" fill="#ffffff" >0.498</text>
<text x="148.11" y="321.47" font-size="4.6" text-anchor="middle" fill="#ffffff" >0.595</text>
<text x="176.49" y="321.47" font-size="4.6" text-anchor="middle" fill="#ffffff" >0.671</text>
<text x="204.86" y="321.47" font-size="4.6" text-anchor="middle" fill="#ffffff" >0.576</text>
<text x="233.24" y="321.47" font-size="4.6" text-anchor="middle" fill="#ffffff" >0.489</text>
<text x="261.61" y="321.47" font-size="4.6" text-anchor="middle" fill="#ffffff" >0.576</text>
<text x="62.99" y="349.32" font-size="4.6" text-anchor="middle" fill="#ffffff" >0.565</text>
<text x="91.36" y="349.32" font-size="4.6" text-anchor="middle" fill="#ffffff" >0.587</text>
<text x="119.74" y="349.32" font-size="4.6" text-anchor="middle" fill="#ffffff" >0.513</text>
<text x="148.11" y="349.32" font-size="4.6" text-anchor="middle" fill="#ffffff" >0.672</text>
<text x="176.49" y="349.32" font-size="4.6" text-anchor="middle" fill="#ffffff" >0.667</text>
<text x="204.86" y="349.32" font-size="4.6" text-anchor="middle" fill="#ffffff" >0.603</text>
<text x="233.24" y="349.32" font-size="4.6" text-anchor="middle" fill="#ffffff" >0.464</text>
<text x="261.61" y="349.32" font-size="4.6" text-anchor="middle" fill="#ffffff" >0.603</text>
<text x="62.99" y="377.17" font-size="4.6" text-anchor="middle" fill="#ffffff" >0.498</text>
<text x="91.36" y="377.17" font-size="4.6" text-anchor="middle" fill="#ffffff" >0.513</text>
<text x="119.74" y="377.17" font-size="4.6" text-anchor="middle" fill="#1a1a1a" >1.165</text>
<text x="148.11" y="377.17" font-size="4.6" text-anchor="middle" fill="#ffffff" >0.649</text>
<text x="176.49" y="377.17" font-size="4.6" text-anchor="middle" fill="#ffffff" >0.658</text>
<text x="204.86" y="377.17" font-size="4.6" text-anchor="middle" fill="#ffffff" >0.585</text>
<text x="233.24" y="377.17" font-size="4.6" text-anchor="middle" fill="#ffffff" >0.500</text>
<text x="261.61" y="377.17" font-size="4.6" text-anchor="middle" fill="#ffffff" >0.568</text>
<text x="62.99" y="405.02" font-size="4.6" text-anchor="middle" fill="#ffffff" >0.595</text>
<text x="91.36" y="405.02" font-size="4.6" text-anchor="middle" fill="#ffffff" >0.672</text>
<text x="119.74" y="405.02" font-size="4.6" text-anchor="middle" fill="#ffffff" >0.649</text>
<text x="148.11" y="405.02" font-size="4.6" text-anchor="middle" fill="#1a1a1a" >1.026</text>
<text x="176.49" y="405.02" font-size="4.6" text-anchor="middle" fill="#ffffff" >0.691</text>
<text x="204.86" y="405.02" font-size="4.6" text-anchor="middle" fill="#ffffff" >0.664</text>
<text x="233.24" y="405.02" font-size="4.6" text-anchor="middle" fill="#ffffff" >0.519</text>
<text x="261.61" y="405.02" font-size="4.6" text-anchor="middle" fill="#ffffff" >0.815</text>
<text x="62.99" y="432.87" font-size="4.6" text-anchor="middle" fill="#ffffff" >0.671</text>
<text x="91.36" y="432.87" font-size="4.6" text-anchor="middle" fill="#ffffff" >0.667</text>
<text x="119.74" y="432.87" font-size="4.6" text-anchor="middle" fill="#ffffff" >0.658</text>
<text x="148.11" y="432.87" font-size="4.6" text-anchor="middle" fill="#ffffff" >0.691</text>
<text x="176.49" y="432.87" font-size="4.6" text-anchor="middle" fill="#ffffff" >0.811</text>
<text x="204.86" y="432.87" font-size="4.6" text-anchor="middle" fill="#ffffff" >0.701</text>
<text x="233.24" y="432.87" font-size="4.6" text-anchor="middle" fill="#ffffff" >0.539</text>
<text x="261.61" y="432.87" font-size="4.6" text-anchor="middle" fill="#ffffff" >0.719</text>
<text x="62.99" y="460.72" font-size="4.6" text-anchor="middle" fill="#ffffff" >0.576</text>
<text x="91.36" y="460.72" font-size="4.6" text-anchor="middle" fill="#ffffff" >0.603</text>
<text x="119.74" y="460.72" font-size="4.6" text-anchor="middle" fill="#ffffff" >0.585</text>
<text x="148.11" y="460.72" font-size="4.6" text-anchor="middle" fill="#ffffff" >0.664</text>
<text x="176.49" y="460.72" font-size="4.6" text-anchor="middle" fill="#ffffff" >0.701</text>
<text x="204.86" y="460.72" font-size="4.6" text-anchor="middle" fill="#ffffff" >0.714</text>
<text x="233.24" y="460.72" font-size="4.6" text-anchor="middle" fill="#ffffff" >0.487</text>
<text x="261.61" y="460.72" font-size="4.6" text-anchor="middle" fill="#ffffff" >0.650</text>
<text x="62.99" y="488.57" font-size="4.6" text-anchor="middle" fill="#ffffff" >0.489</text>
<text x="91.36" y="488.57" font-size="4.6" text-anchor="middle" fill="#ffffff" >0.464</text>
<text x="119.74" y="488.57" font-size="4.6" text-anchor="middle" fill="#ffffff" >0.500</text>
<text x="148.11" y="488.57" font-size="4.6" text-anchor="middle" fill="#ffffff" >0.519</text>
<text x="176.49" y="488.57" font-size="4.6" text-anchor="middle" fill="#ffffff" >0.539</text>
<text x="204.86" y="488.57" font-size="4.6" text-anchor="middle" fill="#ffffff" >0.487</text>
<text x="233.24" y="488.57" font-size="4.6" text-anchor="middle" fill="#ffffff" >0.757</text>
<text x="261.61" y="488.57" font-size="4.6" text-anchor="middle" fill="#ffffff" >0.516</text>
<text x="62.99" y="516.42" font-size="4.6" text-anchor="middle" fill="#ffffff" >0.576</text>
<text x="91.36" y="516.42" font-size="4.6" text-anchor="middle" fill="#ffffff" >0.603</text>
<text x="119.74" y="516.42" font-size="4.6" text-anchor="middle" fill="#ffffff" >0.568</text>
<text x="148.11" y="516.42" font-size="4.6" text-anchor="middle" fill="#ffffff" >0.815</text>
<text x="176.49" y="516.42" font-size="4.6" text-anchor="middle" fill="#ffffff" >0.719</text>
<text x="204.86" y="516.42" font-size="4.6" text-anchor="middle" fill="#ffffff" >0.650</text>
<text x="233.24" y="516.42" font-size="4.6" text-anchor="middle" fill="#ffffff" >0.516</text>
<text x="261.61" y="516.42" font-size="4.6" text-anchor="middle" fill="#1a1a1a" >0.833</text>
<text x="46.20" y="321.31" font-size="4.4" text-anchor="end" fill="#1a1a1a" stroke="#1a1a1a" stroke-width="0.1" >PubChem</text>
<text x="46.20" y="349.16" font-size="4.4" text-anchor="end" fill="#1a1a1a" stroke="#1a1a1a" stroke-width="0.1" >MACCS keys</text>
<text x="46.20" y="377.01" font-size="4.4" text-anchor="end" fill="#1a1a1a" stroke="#1a1a1a" stroke-width="0.1" >ErG</text>
<text x="46.20" y="404.86" font-size="4.4" text-anchor="end" fill="#1a1a1a" stroke="#1a1a1a" stroke-width="0.1" >ECFP</text>
<text x="46.20" y="432.71" font-size="4.4" text-anchor="end" fill="#1a1a1a" stroke="#1a1a1a" stroke-width="0.1" >RDKit</text>
<text x="46.20" y="460.56" font-size="4.4" text-anchor="end" fill="#1a1a1a" stroke="#1a1a1a" stroke-width="0.1" >Avalon</text>
<text x="46.20" y="488.41" font-size="4.4" text-anchor="end" fill="#1a1a1a" stroke="#1a1a1a" stroke-width="0.1" >EState</text>
<text x="46.20" y="516.26" font-size="4.4" text-anchor="end" fill="#1a1a1a" stroke="#1a1a1a" stroke-width="0.1" >GhoseCrippen</text>
<text x="61.49" y="534.10" font-size="4.4" text-anchor="end" fill="#1a1a1a" stroke="#1a1a1a" stroke-width="0.1" transform="rotate(-45 61.49 534.10)">PubChem</text>
<text x="89.86" y="534.10" font-size="4.4" text-anchor="end" fill="#1a1a1a" stroke="#1a1a1a" stroke-width="0.1" transform="rotate(-45 89.86 534.10)">MACCS keys</text>
<text x="118.24" y="534.10" font-size="4.4" text-anchor="end" fill="#1a1a1a" stroke="#1a1a1a" stroke-width="0.1" transform="rotate(-45 118.24 534.10)">ErG</text>
<text x="146.61" y="534.10" font-size="4.4" text-anchor="end" fill="#1a1a1a" stroke="#1a1a1a" stroke-width="0.1" transform="rotate(-45 146.61 534.10)">ECFP</text>
<text x="174.99" y="534.10" font-size="4.4" text-anchor="end" fill="#1a1a1a" stroke="#1a1a1a" stroke-width="0.1" transform="rotate(-45 174.99 534.10)">RDKit</text>
<text x="203.36" y="534.10" font-size="4.4" text-anchor="end" fill="#1a1a1a" stroke="#1a1a1a" stroke-width="0.1" transform="rotate(-45 203.36 534.10)">Avalon</text>
<text x="231.74" y="534.10" font-size="4.4" text-anchor="end" fill="#1a1a1a" stroke="#1a1a1a" stroke-width="0.1" transform="rotate(-45 231.74 534.10)">EState</text>
<text x="260.11" y="534.10" font-size="4.4" text-anchor="end" fill="#1a1a1a" stroke="#1a1a1a" stroke-width="0.1" transform="rotate(-45 260.11 534.10)">GhoseCrippen</text>
<text x="162.30" y="298.30" font-size="6.05" text-anchor="middle" fill="#1a1a1a" stroke="#1a1a1a" stroke-width="0.1" >Average RMSE of Molecular Fingerprint Pairs (Regress)</text>
<text x="304.00" y="518.74" font-size="4.4" text-anchor="start" fill="#1a1a1a" stroke="#1a1a1a" stroke-width="0.1" >0.5</text>
<text x="304.00" y="486.96" font-size="4.4" text-anchor="start" fill="#1a1a1a" stroke="#1a1a1a" stroke-width="0.1" >0.6</text>
<text x="304.00" y="455.18" font-size="4.4" text-anchor="start" fill="#1a1a1a" stroke="#1a1a1a" stroke-width="0.1" >0.7</text>
<text x="304.00" y="423.39" font-size="4.4" text-anchor="start" fill="#1a1a1a" stroke="#1a1a1a" stroke-width="0.1" >0.8</text>
<text x="304.00" y="391.61" font-size="4.4" text-anchor="start" fill="#1a1a1a" stroke="#1a1a1a" stroke-width="0.1" >0.9</text>
<text x="304.00" y="359.83" font-size="4.4" text-anchor="start" fill="#1a1a1a" stroke="#1a1a1a" stroke-width="0.1" >1.0</text>
<text x="304.00" y="328.04" font-size="4.4" text-anchor="start" fill="#1a1a1a" stroke="#1a1a1a" stroke-width="0.1" >1.1</text>
<text x="314.40" y="417.20" font-size="5.2" text-anchor="middle" fill="#1a1a1a" stroke="#1a1a1a" stroke-width="0.1" transform="rotate(-90 314.40 417.20)">Average RMSE</text>
<text x="387.05" y="104.48" font-size="4.5" text-anchor="middle" fill="#1a1a1a" stroke="#1a1a1a" stroke-width="0.1" >21</text>
<text x="426.15" y="124.81" font-size="4.5" text-anchor="middle" fill="#1a1a1a" stroke="#1a1a1a" stroke-width="0.1" >18</text>
<text x="465.25" y="70.59" font-size="4.5" text-anchor="middle" fill="#1a1a1a" stroke="#1a1a1a" stroke-width="0.1" >26</text>
<text x="504.35" y="77.37" font-size="4.5" text-anchor="middle" fill="#1a1a1a" stroke="#1a1a1a" stroke-width="0.1" >25</text>
<text x="543.45" y="90.93" font-size="4.5" text-anchor="middle" fill="#1a1a1a" stroke="#1a1a1a" stroke-width="0.1" >23</text>
<text x="582.55" y="97.70" font-size="4.5" text-anchor="middle" fill="#1a1a1a" stroke="#1a1a1a" stroke-width="0.1" >22</text>
<text x="621.65" y="97.70" font-size="4.5" text-anchor="middle" fill="#1a1a1a" stroke="#1a1a1a" stroke-width="0.1" >22</text>
<text x="660.75" y="131.59" font-size="4.5" text-anchor="middle" fill="#1a1a1a" stroke="#1a1a1a" stroke-width="0.1" >17</text>
<text x="360.30" y="251.02" font-size="4.5" text-anchor="end" fill="#1a1a1a" stroke="#1a1a1a" stroke-width="0.1" >0</text>
<text x="360.30" y="217.13" font-size="4.5" text-anchor="end" fill="#1a1a1a" stroke="#1a1a1a" stroke-width="0.1" >5</text>
<text x="360.30" y="183.25" font-size="4.5" text-anchor="end" fill="#1a1a1a" stroke="#1a1a1a" stroke-width="0.1" >10</text>
<text x="360.30" y="149.36" font-size="4.5" text-anchor="end" fill="#1a1a1a" stroke="#1a1a1a" stroke-width="0.1" >15</text>
<text x="360.30" y="115.48" font-size="4.5" text-anchor="end" fill="#1a1a1a" stroke="#1a1a1a" stroke-width="0.1" >20</text>
<text x="360.30" y="81.59" font-size="4.5" text-anchor="end" fill="#1a1a1a" stroke="#1a1a1a" stroke-width="0.1" >25</text>
<text x="360.30" y="47.71" font-size="4.5" text-anchor="end" fill="#1a1a1a" stroke="#1a1a1a" stroke-width="0.1" >30</text>
<text x="360.30" y="13.82" font-size="4.5" text-anchor="end" fill="#1a1a1a" stroke="#1a1a1a" stroke-width="0.1" >35</text>
<text x="387.05" y="256.22" font-size="5.6" text-anchor="middle" fill="#1a1a1a" stroke="#1a1a1a" stroke-width="0.1" >PubChem</text>
<text x="426.15" y="256.22" font-size="5.6" text-anchor="middle" fill="#1a1a1a" stroke="#1a1a1a" stroke-width="0.1" >MACCS keys</text>
<text x="465.25" y="256.22" font-size="5.6" text-anchor="middle" fill="#1a1a1a" stroke="#1a1a1a" stroke-width="0.1" >ErG</text>
<text x="504.35" y="256.22" font-size="5.6" text-anchor="middle" fill="#1a1a1a" stroke="#1a1a1a" stroke-width="0.1" >ECFP</text>
<text x="543.45" y="256.22" font-size="5.6" text-anchor="middle" fill="#1a1a1a" stroke="#1a1a1a" stroke-width="0.1" >RDKit</text>
<text x="582.55" y="256.22" font-size="5.6" text-anchor="middle" fill="#1a1a1a" stroke="#1a1a1a" stroke-width="0.1" >Avalon</text>
<text x="621.65" y="256.22" font-size="5.6" text-anchor="middle" fill="#1a1a1a" stroke="#1a1a1a" stroke-width="0.1" >EState</text>
<text x="660.75" y="256.22" font-size="5.6" text-anchor="middle" fill="#1a1a1a" stroke="#1a1a1a" stroke-width="0.1" >GhoseCrippen</text>
<text x="523.70" y="263.52" font-size="5.6" text-anchor="middle" fill="#1a1a1a" stroke="#1a1a1a" stroke-width="0.1" >Molecular Fingerprint</text>
<text x="524.40" y="9.10" font-size="7.58" text-anchor="middle" fill="#1a1a1a" stroke="#1a1a1a" stroke-width="0.1" >Frequency of Fingerprints in Top-3 Combinations (Class)</text>
<text x="390.80" y="432.18" font-size="4.5" text-anchor="middle" fill="#1a1a1a" stroke="#1a1a1a" stroke-width="0.1" >8</text>
<text x="429.40" y="406.37" font-size="4.5" text-anchor="middle" fill="#1a1a1a" stroke="#1a1a1a" stroke-width="0.1" >10</text>
<text x="468.00" y="354.76" font-size="4.5" text-anchor="middle" fill="#1a1a1a" stroke="#1a1a1a" stroke-width="0.1" >14</text>
<text x="506.60" y="380.57" font-size="4.5" text-anchor="middle" fill="#1a1a1a" stroke="#1a1a1a" stroke-width="0.1" >12</text>
<text x="545.20" y="535.40" font-size="4.5" text-anchor="middle" fill="#1a1a1a" stroke="#1a1a1a" stroke-width="0.1" >0</text>
<text x="583.80" y="457.98" font-size="4.5" text-anchor="middle" fill="#1a1a1a" stroke="#1a1a1a" stroke-width="0.1" >6</text>
<text x="622.40" y="328.95" font-size="4.5" text-anchor="middle" fill="#1a1a1a" stroke="#1a1a1a" stroke-width="0.1" >16</text>
<text x="661.00" y="419.27" font-size="4.5" text-anchor="middle" fill="#1a1a1a" stroke="#1a1a1a" stroke-width="0.1" >9</text>
<text x="363.90" y="541.72" font-size="4.5" text-anchor="end" fill="#1a1a1a" stroke="#1a1a1a" stroke-width="0.1" >0.0</text>
<text x="363.90" y="509.46" font-size="4.5" text-anchor="end" fill="#1a1a1a" stroke="#1a1a1a" stroke-width="0.1" >2.5</text>
<text x="363.90" y="477.21" font-size="4.5" text-anchor="end" fill="#1a1a1a" stroke="#1a1a1a" stroke-width="0.1" >5.0</text>
<text x="363.90" y="444.95" font-size="4.5" text-anchor="end" fill="#1a1a1a" stroke="#1a1a1a" stroke-width="0.1" >7.5</text>
<text x="363.90" y="412.69" font-size="4.5" text-anchor="end" fill="#1a1a1a" stroke="#1a1a1a" stroke-width="0.1" >10.0</text>
<text x="363.90" y="380.43" font-size="4.5" text-anchor="end" fill="#1a1a1a" stroke="#1a1a1a" stroke-width="0.1" >12.5</text>
<text x="363.90" y="348.18" font-size="4.5" text-anchor="end" fill="#1a1a1a" stroke="#1a1a1a" stroke-width="0.1" >15.0</text>
<text x="363.90" y="315.92" font-size="4.5" text-anchor="end" fill="#1a1a1a" stroke="#1a1a1a" stroke-width="0.1" >17.5</text>
<text x="390.80" y="547.22" font-size="5.6" text-anchor="middle" fill="#1a1a1a" stroke="#1a1a1a" stroke-width="0.1" >PubChem</text>
<text x="429.40" y="547.22" font-size="5.6" text-anchor="middle" fill="#1a1a1a" stroke="#1a1a1a" stroke-width="0.1" >MACCS keys</text>
<text x="468.00" y="547.22" font-size="5.6" text-anchor="middle" fill="#1a1a1a" stroke="#1a1a1a" stroke-width="0.1" >ErG</text>
<text x="506.60" y="547.22" font-size="5.6" text-anchor="middle" fill="#1a1a1a" stroke="#1a1a1a" stroke-width="0.1" >ECFP</text>
<text x="545.20" y="547.22" font-size="5.6" text-anchor="middle" fill="#1a1a1a" stroke="#1a1a1a" stroke-width="0.1" >RDKit</text>
<text x="583.80" y="547.22" font-size="5.6" text-anchor="middle" fill="#1a1a1a" stroke="#1a1a1a" stroke-width="0.1" >Avalon</text>
<text x="622.40" y="547.22" font-size="5.6" text-anchor="middle" fill="#1a1a1a" stroke="#1a1a1a" stroke-width="0.1" >EState</text>
<text x="661.00" y="547.22" font-size="5.6" text-anchor="middle" fill="#1a1a1a" stroke="#1a1a1a" stroke-width="0.1" >GhoseCrippen</text>
<text x="525.80" y="554.42" font-size="5.6" text-anchor="middle" fill="#1a1a1a" stroke="#1a1a1a" stroke-width="0.1" >Molecular Fingerprint</text>
<text x="526.50" y="299.60" font-size="7.58" text-anchor="middle" fill="#1a1a1a" stroke="#1a1a1a" stroke-width="0.1" >Frequency of Fingerprints in Top-3 Combinations (Regression)</text>
<text x="0.20" y="9.60" font-size="13" text-anchor="start" fill="#000" font-weight="bold" >a</text>
<text x="335.00" y="9.70" font-size="13" text-anchor="start" fill="#000" font-weight="bold" >b</text>
<text x="0.20" y="302.60" font-size="13" text-anchor="start" fill="#000" font-weight="bold" >c</text>
<text x="341.40" y="302.60" font-size="13" text-anchor="start" fill="#000" font-weight="bold" >d</text>
</svg></body></html>
